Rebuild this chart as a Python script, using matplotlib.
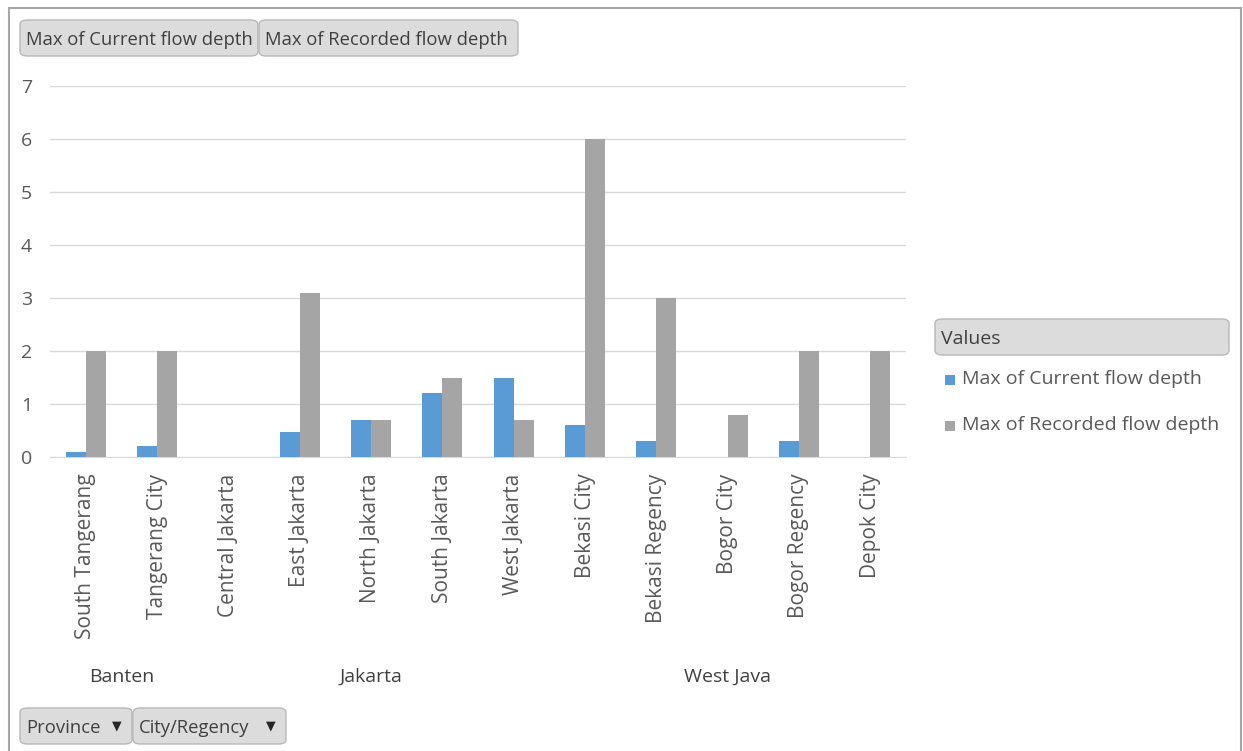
import matplotlib
matplotlib.use("Agg")
import matplotlib.pyplot as plt
from matplotlib.patches import FancyBboxPatch, Rectangle
import matplotlib.transforms as mtrans
import numpy as np

provinces = ["Banten", "Jakarta", "West Java"]
province_counts = [2, 5, 5]
cities = ["South Tangerang", "Tangerang City", "Central Jakarta", "East Jakarta",
          "North Jakarta", "South Jakarta", "West Jakarta", "Bekasi City",
          "Bekasi Regency", "Bogor City", "Bogor Regency", "Depok City"]
current_depth = [0.1, 0.2, np.nan, 0.48, 0.7, 1.2, 1.5, 0.6, 0.3, np.nan, 0.3, np.nan]
recorded_depth = [2.0, 2.0, np.nan, 3.1, 0.7, 1.5, 0.7, 6.0, 3.0, 0.8, 2.0, 2.0]
series_names = ["Max of Current flow depth", "Max of Recorded flow depth"]
yticks = [0, 1, 2, 3, 4, 5, 6, 7]

plt.rcParams['font.family'] = ['Open Sans', 'DejaVu Sans']

W, H = 1243, 751
fig = plt.figure(figsize=(W / 100, H / 100), dpi=100)

def fx(px):
    return px / W

def fy(py):
    return 1 - py / H

blue = "#5b9bd5"
gray = "#a5a5a5"
txt = "#595959"

ax = fig.add_axes([fx(50), fy(457), fx(906) - fx(50), fy(86) - fy(457)])
x = np.arange(len(cities))
bw = 0.28
ax.bar(x - bw / 2, current_depth, width=bw, color=blue, zorder=3)
ax.bar(x + bw / 2, recorded_depth, width=bw, color=gray, zorder=3)
ax.set_xlim(-0.5, len(cities) - 0.5)
ax.set_ylim(0, 7)
ax.set_yticks(yticks)
ax.set_yticklabels([str(v) for v in yticks], fontsize=14, color=txt)
ax.yaxis.grid(True, color="#d9d9d9", linewidth=1, zorder=0)
for lbl in ax.get_yticklabels():
    lbl.set_horizontalalignment('left')
ax.tick_params(axis='y', length=0, pad=21)
ax.set_xticks(x)
ax.set_xticklabels(cities, rotation=90, fontsize=15, color=txt, va='top')
ax.tick_params(axis='x', length=0, pad=12)
for s in ["top", "right", "left"]:
    ax.spines[s].set_visible(False)
ax.spines["bottom"].set_color("#d9d9d9")
ax.set_axisbelow(True)

# Province labels
tr = mtrans.blended_transform_factory(ax.transData, fig.transFigure)
start = 0
for p, c in zip(provinces, province_counts):
    center = start + (c - 1) / 2
    ax.text(center, fy(677), p, transform=tr, fontsize=14,
            color="#404040", ha='center', va='center')
    start += c

# Outer border
fig.patches.append(Rectangle((fx(9), fy(760)), fx(1241) - fx(9), fy(8) - fy(760),
                             transform=fig.transFigure, fill=False,
                             edgecolor="#a6a6a6", linewidth=1.5))

def button(x0, y0, x1, y1, label, arrow=False, size=13.3):
    fig.patches.append(FancyBboxPatch((fx(x0), fy(y1)), fx(x1) - fx(x0), fy(y0) - fy(y1),
                                      boxstyle="round,pad=0,rounding_size=0.006",
                                      transform=fig.transFigure, facecolor="#dcdcdc",
                                      edgecolor="#b8b8b8", linewidth=1))
    fig.text(fx(x0 + 6), fy((y0 + y1) / 2 + 2), label, fontsize=size, color="#404040",
             ha='left', va='center')
    if arrow:
        fig.text(fx(x1 - 10), fy((y0 + y1) / 2), "\u25bc", fontsize=9, color="#262626",
                 ha='right', va='center', family='DejaVu Sans')

button(20, 20, 258, 56, series_names[0])
button(259, 20, 518, 56, series_names[1])
button(20, 708, 132, 744, "Province", arrow=True)
button(133, 708, 286, 744, "City/Regency", arrow=True)
button(935, 319, 1229, 355, "Values", size=14)

# Legend entries
for i, (name, col) in enumerate(zip(series_names, [blue, gray])):
    yc = 379 + i * 46
    fig.patches.append(Rectangle((fx(945), fy(yc + 6)), fx(955) - fx(945), fy(yc - 4) - fy(yc + 6),
                                 transform=fig.transFigure, facecolor=col, edgecolor='none'))
    fig.text(fx(962), fy(yc), name, fontsize=14, color=txt, ha='left', va='center')

fig.savefig("out.png", dpi=100, facecolor="white")
